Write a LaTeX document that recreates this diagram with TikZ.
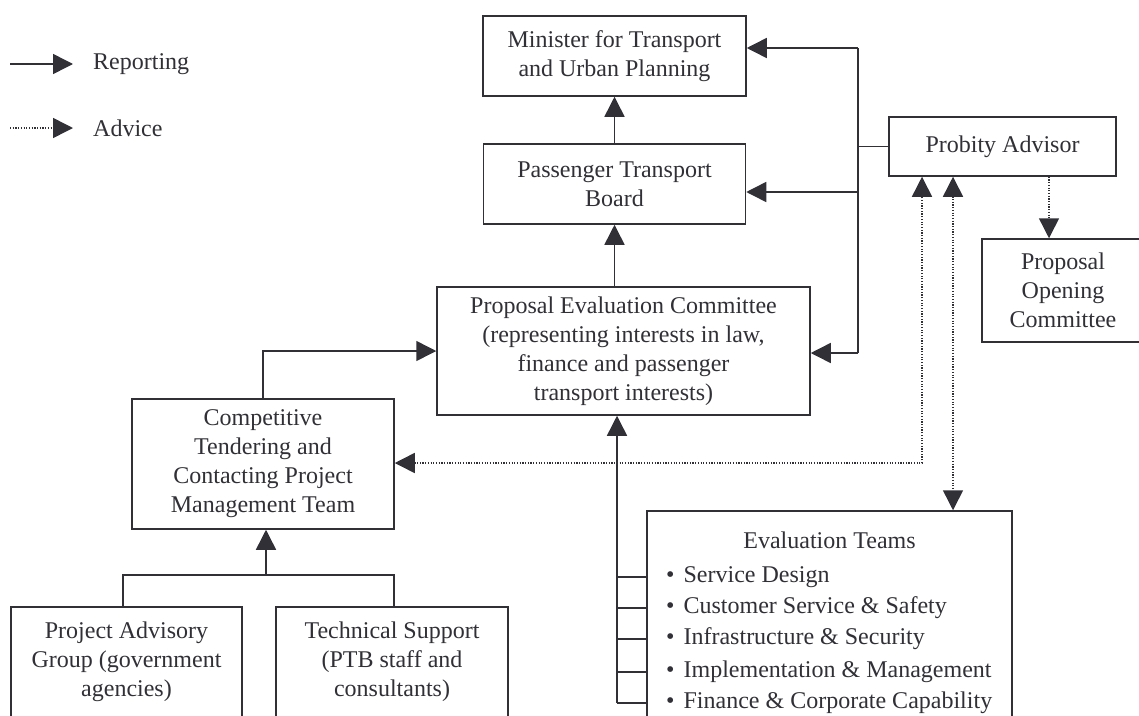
\documentclass[tikz,border=0pt]{standalone}
\usepackage{fontspec}
\setmainfont{Liberation Serif}
\usetikzlibrary{arrows.meta,calc}
\definecolor{ink}{RGB}{48,48,54}
\tikzset{
  bigtri/.tip={Triangle[length=20pt,width=20pt]},
  box/.style={draw=ink, line width=1.5pt, inner sep=0pt, align=center,
              font=\fontsize{24}{29}\selectfont, text=ink},
  lbl/.style={inner sep=0pt, align=center, font=\fontsize{24}{29}\selectfont, text=ink},
  conn/.style={draw=ink, line width=1.5pt},
  rep/.style={conn, -bigtri},
  adv/.style={conn, dash pattern=on 1.2pt off 1.5pt, -bigtri},
  advboth/.style={conn, dash pattern=on 1.2pt off 1.5pt, bigtri-bigtri},
}
\begin{document}
\begin{tikzpicture}[x=1pt,y=-1pt]
\useasboundingbox[fill=white] (0,0) rectangle (1139,715);

% boxes
\node[box, minimum width=263pt, minimum height=80pt] (min) at (614.5,56) {Minister for Transport\\and Urban Planning};
\node[box, minimum width=262pt, minimum height=80pt] (ptb) at (614.5,184) {Passenger Transport\\Board};
\node[box, minimum width=373pt, minimum height=128pt] (pec) at (623.5,351) {Proposal Evaluation Committee\\(representing interests in law,\\finance and passenger\\transport interests)};
\node[box, minimum width=262pt, minimum height=130pt] (ctt) at (263,464) {Competitive\\Tendering and\\Contacting Project\\Management Team};
\node[box, minimum width=227pt, minimum height=59pt] (prob) at (1002.5,146.5) {Probity Advisor};
\node[box, minimum width=162pt, minimum height=103pt] (poc) at (1063,290.5) {Proposal\\Opening\\Committee};

\node[box, minimum width=365pt, minimum height=234pt] (eval) at (829.5,628) {};
\node[lbl] (evt) at (829.5,540) {Evaluation Teams};
\node[lbl, anchor=west] (ev1) at (666,577) {\textbullet\hspace{9pt}Service Design};
\node[lbl, anchor=west] (ev2) at (666,608) {\textbullet\hspace{9pt}Customer Service \& Safety};
\node[lbl, anchor=west] (ev3) at (666,639) {\textbullet\hspace{9pt}Infrastructure \& Security};
\node[lbl, anchor=west] (ev4) at (666,672) {\textbullet\hspace{9pt}Implementation \& Management};
\node[lbl, anchor=west] (ev5) at (666,703) {\textbullet\hspace{9pt}Finance \& Corporate Capability};

\node[box, minimum width=231pt, minimum height=140pt] (pag) at (126.5,677) {};
\node[lbl] (pagt) at (126.5,662) {Project Advisory\\Group (government\\agencies)};
\node[box, minimum width=232pt, minimum height=140pt] (tsb) at (392,677) {};
\node[lbl] (tst) at (392,662) {Technical Support\\(PTB staff and\\consultants)};

% legend
\coordinate (l1a) at (10,64); \coordinate (l1b) at (73,64);
\draw[rep] (l1a) -- (l1b);
\node[lbl, anchor=west] (lrep) at (93,64) {Reporting};
\coordinate (l2a) at (10,128); \coordinate (l2b) at (73,128);
\draw[adv] (l2a) -- (l2b);
\node[lbl, anchor=west] (ladv) at (93,128) {Advice};

% right reporting bus from Probity Advisor
\coordinate (rt) at (858,48);
\coordinate (rm) at (858,192);
\coordinate (rb) at (858,353);
\draw[conn] (rt) -- (rb);
\draw[rep] (rt) -- (rt -| min.east);
\draw[rep] (rm) -- (rm -| ptb.east);
\draw[rep] (rb) -- (rb -| pec.east);
\draw[conn] (prob.west) -- (prob.west -| rt);

% central chain
\draw[rep] (ptb.north) -- (min.south);
\draw[rep] (pec.north -| ptb) -- (ptb.south);
\draw[rep] (ctt.north) |- (pec.west);

% evaluation teams bus
\coordinate (eb) at (617,703);
\draw[rep] (eb) -- (eb |- pec.south);
\foreach \e in {ev1,ev2,ev3,ev4,ev5}{
  \draw[conn] (eb |- \e) -- (eval.west |- \e);
}

% advice lines
\coordinate (a1) at (922,463);
\coordinate (a2) at (953,0);
\coordinate (a3) at (1049,0);
\draw[advboth] (ctt.east |- a1) -- (a1) -- (a1 |- prob.south);
\draw[advboth] (a2 |- prob.south) -- (a2 |- eval.north);
\draw[adv] (a3 |- prob.south) -- (a3 |- poc.north);

% competitive tendering support bus
\coordinate (cb) at (266,575);
\coordinate (cl) at (123,575);
\coordinate (cr) at (394,575);
\draw[rep] (cb) -- (cb |- ctt.south);
\draw[conn, line join=miter] (cl |- pag.north) -- (cl) -- (cr) -- (cr |- tsb.north);
\end{tikzpicture}
\end{document}
